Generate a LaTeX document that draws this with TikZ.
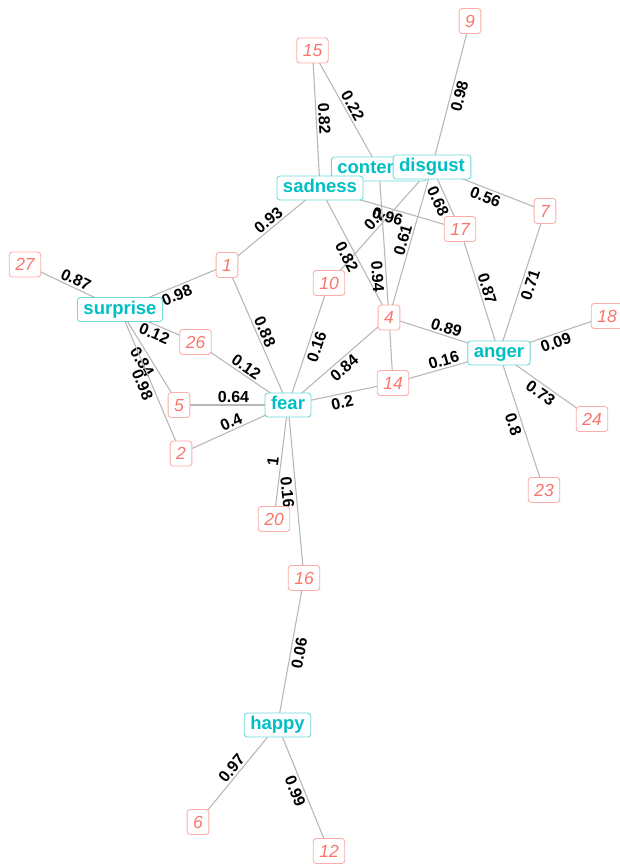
\documentclass[tikz,border=0pt]{standalone}
\usepackage{fontspec}
\setmainfont{Liberation Sans}
\definecolor{emoText}{HTML}{00BFC4}
\definecolor{emoBorder}{HTML}{6FD8DA}
\definecolor{numText}{HTML}{F8766D}
\definecolor{numBorder}{HTML}{FBADA7}
\definecolor{edgeGray}{HTML}{B8B8B8}
\pgfdeclarelayer{edgelayer}
\pgfsetlayers{edgelayer,main}
\tikzset{
  emo/.style={draw=emoBorder, line width=0.9pt, fill=white, rounded corners=3pt,
    text=emoText, font=\fontsize{18.5}{18.5}\selectfont\bfseries,
    inner xsep=6pt, inner ysep=3.3pt, text height=13.5pt, text depth=3.9pt},
  num/.style={draw=numBorder, line width=0.9pt, fill=white, rounded corners=3pt,
    text=numText, font=\fontsize{17.5}{17.5}\selectfont\itshape,
    inner xsep=6pt, inner ysep=6.2pt, text height=12.6pt, text depth=0pt},
  lk/.style={draw=edgeGray, line width=1.1pt},
  wt/.style={sloped, midway, font=\fontsize{16}{16}\selectfont\bfseries, text=black,
    inner sep=2pt, text height=11.6pt, text depth=0pt}
}
\begin{document}
\begin{tikzpicture}[x=1pt,y=-1pt]
\useasboundingbox (0,0) rectangle (619,864);
% nodes
\node[num] (n9) at (470,21) {9};
\node[num] (n15) at (312.5,50.5) {15};
\node[emo] (contempt) at (379,169) {contempt};
\node[emo] (sadness) at (320,188) {sadness};
\node[emo] (disgust) at (432,167) {disgust};
\node[num] (n7) at (545,211) {7};
\node[num] (n17) at (460,229) {17};
\node[num] (n1) at (227,265) {1};
\node[num] (n27) at (25,264.5) {27};
\node[num] (n10) at (329,283) {10};
\node[emo] (surprise) at (120,309.5) {surprise};
\node[num] (n4) at (389,317.5) {4};
\node[num] (n18) at (607,316) {18};
\node[num] (n26) at (195.5,342) {26};
\node[emo] (anger) at (499,353) {anger};
\node[num] (n14) at (393,383) {14};
\node[num] (n5) at (179,405) {5};
\node[emo] (fear) at (288,405) {fear};
\node[num] (n24) at (592,419) {24};
\node[num] (n2) at (181,453.5) {2};
\node[num] (n23) at (544,490) {23};
\node[num] (n20) at (274,519) {20};
\node[num] (n16) at (304,578) {16};
\node[emo] (happy) at (277.5,725) {happy};
\node[num] (n6) at (198,822) {6};
\node[num] (n12) at (329,851) {12};
% edges
\begin{pgfonlayer}{edgelayer}
\draw[lk] (n9.center) -- node[wt,below]{0.98} (disgust.center);
\draw[lk] (n15.center) -- node[wt,above]{0.82} (sadness.center);
\draw[lk] (n15.center) -- node[wt,above]{0.22} (contempt.center);
\draw[lk] (disgust.center) -- node[wt,below]{0.56} (n7.center);
\draw[lk] (disgust.center) -- node[wt,below]{0.68} (n17.center);
\draw[lk] (disgust.center) -- node[wt,above]{0.61} (n4.center);
\draw[lk] (disgust.center) -- node[wt,above]{0.2} (n10.center);
\draw[lk] (sadness.center) -- node[wt,above]{0.93} (n1.center);
\draw[lk] (sadness.center) -- node[wt,below]{0.82} (n4.center);
\draw[lk] (sadness.center) -- node[wt,below]{0.96} (n17.center);
\draw[lk] (contempt.center) -- node[wt,below,pos=0.72]{0.94} (n4.center);
\draw[lk] (n17.center) -- node[wt,above]{0.87} (anger.center);
\draw[lk] (n7.center) -- node[wt,below]{0.71} (anger.center);
\draw[lk] (anger.center) -- node[wt,below]{0.09} (n18.center);
\draw[lk] (anger.center) -- node[wt,below]{0.73} (n24.center);
\draw[lk] (anger.center) -- node[wt,below]{0.8} (n23.center);
\draw[lk] (n4.center) -- node[wt,above]{0.89} (anger.center);
\draw[lk] (n14.center) -- node[wt,above]{0.16} (anger.center);
\draw[lk] (n4.center) -- (n14.center);
\draw[lk] (n4.center) -- node[wt,below]{0.84} (fear.center);
\draw[lk] (n10.center) -- node[wt,below]{0.16} (fear.center);
\draw[lk] (n1.center) -- node[wt,above]{0.88} (fear.center);
\draw[lk] (n26.center) -- node[wt,above]{0.12} (fear.center);
\draw[lk] (n5.center) -- node[wt,above]{0.64} (fear.center);
\draw[lk] (n2.center) -- node[wt,above]{0.4} (fear.center);
\draw[lk] (n14.center) -- node[wt,below]{0.2} (fear.center);
\draw[lk] (fear.center) -- node[wt,above]{1} (n20.center);
\draw[lk] (fear.center) -- node[wt,below]{0.16} (n16.center);
\draw[lk] (n16.center) -- node[wt,below]{0.06} (happy.center);
\draw[lk] (happy.center) -- node[wt,above]{0.97} (n6.center);
\draw[lk] (happy.center) -- node[wt,below]{0.99} (n12.center);
\draw[lk] (surprise.center) -- node[wt,above]{0.87} (n27.center);
\draw[lk] (surprise.center) -- node[wt,below]{0.98} (n1.center);
\draw[lk] (surprise.center) -- node[wt,below]{0.12} (n26.center);
\draw[lk] (surprise.center) -- node[wt,below]{0.84} (n5.center);
\draw[lk] (surprise.center) -- node[wt,below]{0.98} (n2.center);
\end{pgfonlayer}
\end{tikzpicture}
\end{document}
